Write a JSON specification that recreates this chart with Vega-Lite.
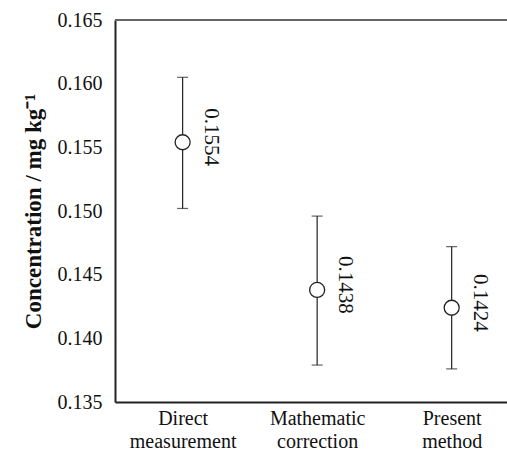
{
  "$schema": "https://vega.github.io/schema/vega-lite/v6.json",
  "width": 392,
  "height": 382,
  "autosize": "none",
  "padding": {"left": 115, "top": 20, "right": 0, "bottom": 51},
  "background": "white",
  "config": {
    "font": "'Liberation Serif', 'Times New Roman', Times, serif",
    "axis": {"labelFont": "'Liberation Serif', 'Times New Roman', Times, serif", "titleFont": "'Liberation Serif', 'Times New Roman', Times, serif"},
    "text": {"font": "'Liberation Serif', 'Times New Roman', Times, serif"},
    "view": {"stroke": null}
  },
  "data": {
    "values": [
      {"method": "Direct measurement", "value": 0.1554, "lo": 0.1502, "hi": 0.1605, "label": "0.1554"},
      {"method": "Mathematic correction", "value": 0.1438, "lo": 0.1379, "hi": 0.1496, "label": "0.1438"},
      {"method": "Present method", "value": 0.1424, "lo": 0.1376, "hi": 0.1472, "label": "0.1424"}
    ]
  },
  "encoding": {
    "x": {
      "field": "method",
      "type": "nominal",
      "sort": null,
      "scale": {"type": "point", "padding": 0.457, "align": 0.55},
      "axis": {
        "title": null,
        "labelAngle": 0,
        "labelFontSize": 20,
        "labelColor": "#111",
        "labelExpr": "split(datum.label, ' ')",
        "labelLineHeight": 23,
        "labelPadding": 6,
        "ticks": false,
        "domainColor": "#222",
        "domainWidth": 2
      }
    }
  },
  "layer": [
    {
      "mark": {"type": "rule", "color": "#666", "strokeWidth": 2},
      "encoding": {"x": null, "y": {"datum": 0.165, "type": "quantitative"}}
    },
    {
      "mark": {"type": "rule", "color": "#222", "strokeWidth": 1.2},
      "encoding": {
        "y": {
          "field": "lo",
          "type": "quantitative",
          "scale": {"domain": [0.135, 0.165], "zero": false, "nice": false},
          "axis": {
            "title": "Concentration / mg kg⁻¹",
            "titleFontSize": 23,
            "titleFontWeight": "bold",
            "titleColor": "#111",
            "titlePadding": 12,
            "values": [0.135, 0.14, 0.145, 0.15, 0.155, 0.16, 0.165],
            "format": ".3f",
            "labelFontSize": 20,
            "labelColor": "#111",
            "labelPadding": 13,
            "ticks": false,
            "grid": false,
            "domainColor": "#222",
            "domainWidth": 2
          }
        },
        "y2": {"field": "hi"}
      }
    },
    {
      "mark": {"type": "tick", "color": "#222", "size": 11, "thickness": 1.2},
      "encoding": {"y": {"field": "lo", "type": "quantitative"}}
    },
    {
      "mark": {"type": "tick", "color": "#222", "size": 11, "thickness": 1.2},
      "encoding": {"y": {"field": "hi", "type": "quantitative"}}
    },
    {
      "mark": {"type": "point", "shape": "circle", "filled": true, "fill": "white", "stroke": "#222", "strokeWidth": 1.3, "size": 225, "opacity": 1},
      "encoding": {"y": {"field": "value", "type": "quantitative"}}
    },
    {
      "mark": {"type": "text", "angle": 90, "align": "center", "baseline": "middle", "dx": -5, "dy": -28, "fontSize": 21, "color": "#111"},
      "encoding": {
        "y": {"field": "value", "type": "quantitative"},
        "text": {"field": "label"}
      }
    }
  ]
}
